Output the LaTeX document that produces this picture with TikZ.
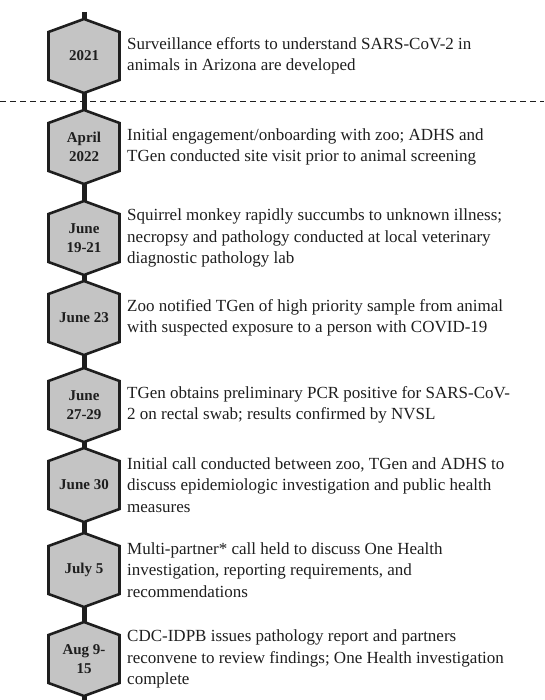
\documentclass[tikz,border=0pt]{standalone}
\usepackage{fontspec}
\setmainfont{Liberation Serif}
\usepackage{xcolor}
\usepackage{tikz}
\usetikzlibrary{positioning, backgrounds}

\definecolor{hexgray}{HTML}{C4C4C4}
\definecolor{inkdark}{HTML}{1E1E1E}

\begin{document}
\begin{tikzpicture}[
  x=1pt, y=-1pt,
  hexbox/.style  = {draw=inkdark, fill=hexgray, line width=2.6pt, line join=miter},
  spine/.style   = {draw=inkdark, line width=5pt},
  datelbl/.style = {font=\fontsize{15}{19}\selectfont\bfseries, text=inkdark,
                    align=center, inner sep=0},
  desclbl/.style = {font=\fontsize{17}{21.5}\selectfont, text=inkdark,
                    align=left, inner sep=0, anchor=west},
  divider/.style = {draw=inkdark, line width=0.9pt, dash pattern=on 6pt off 4pt},
]
\useasboundingbox (0,0) rectangle (544,700);
\def\hx{84}
% ── timeline entries ──
\foreach \n/\yy/\date/\desc in {
    1/56/{2021}/{Surveillance efforts to understand SARS-CoV-2 in\\animals in Arizona are developed},
    2/147/{April\\2022}/{Initial engagement/onboarding with zoo; ADHS and\\TGen conducted site visit prior to animal screening},
    3/238/{June\\19-21}/{Squirrel monkey rapidly succumbs to unknown illness;\\necropsy and pathology conducted at local veterinary\\diagnostic pathology lab},
    4/318/{June 23}/{Zoo notified TGen of high priority sample from animal\\with suspected exposure to a person with COVID-19},
    5/405/{June\\27-29}/{TGen obtains preliminary PCR positive for SARS-CoV-\\2 on rectal swab; results confirmed by NVSL},
    6/485/{June 30}/{Initial call conducted between zoo, TGen and ADHS to\\discuss epidemiologic investigation and public health\\measures},
    7/570/{July 5}/{Multi-partner* call held to discuss One Health\\investigation, reporting requirements, and\\recommendations},
    8/659/{Aug 9-\\15}/{CDC-IDPB issues pathology report and partners\\reconvene to review findings; One Health investigation\\complete}}
{
  \draw[hexbox] (\hx,\yy) ++(0,-37) -- ++(35.5,13) -- ++(0,48)
                -- ++(-35.5,13) -- ++(-35.5,-13) -- ++(0,-48) -- cycle;
  \node[datelbl] (d\n) at (\hx,\yy) {\date};
  \node[desclbl] (t\n) at (127,\yy) {\desc};
}
% ── spine ──
\coordinate (top) at (\hx,12);
\coordinate (bot) at (\hx,700);
\begin{scope}[on background layer]
  \foreach \a/\b in {top/d1, d1/d2, d2/d3, d3/d4, d4/d5, d5/d6, d6/d7, d7/d8, d8/bot}
    \draw[spine] (\a) -- (\b);
\end{scope}
% ── divider ──
\coordinate (divl) at (0,101);
\coordinate (divr) at (544,101);
\begin{scope}[on background layer]
  \draw[divider] (divl) -- (divr);
\end{scope}
\end{tikzpicture}
\end{document}
